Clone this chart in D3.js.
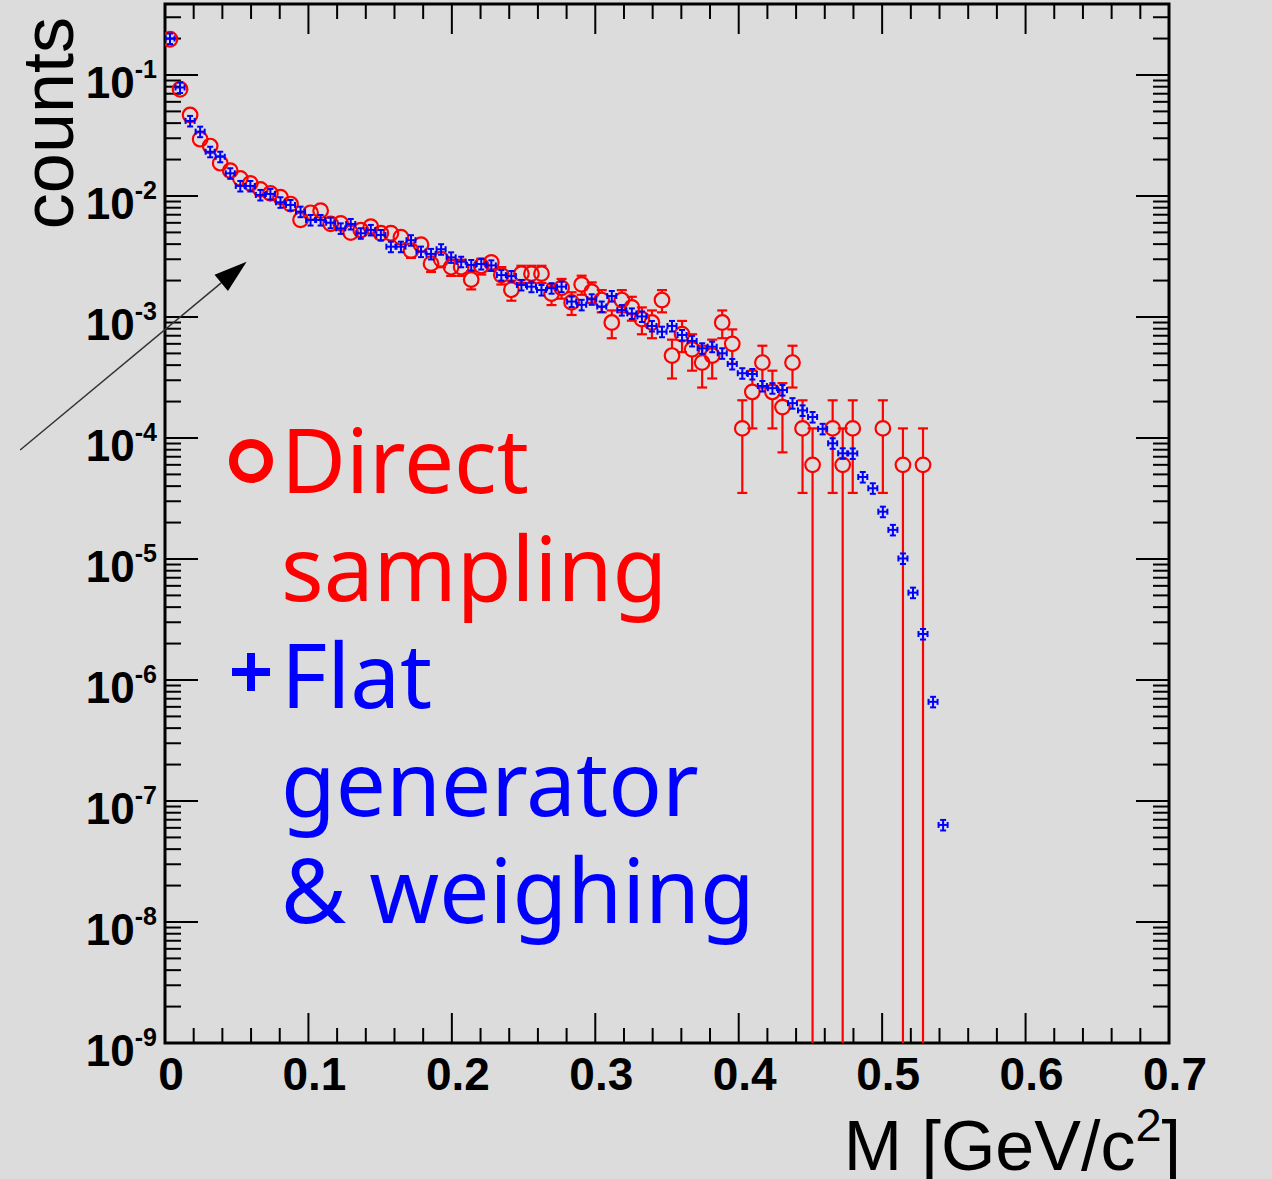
<!DOCTYPE html>
<html>
<head>
<meta charset="utf-8">
<script src="https://cdn.jsdelivr.net/npm/d3@7"></script>
<style>
  html, body { margin: 0; padding: 0; background: #dcdcdc; }
  svg { display: block; }
</style>
</head>
<body>
<svg id="chart" width="1272" height="1179"></svg>
<script>
// histogram binning
const BIN_WIDTH = 0.007
// weight of one entry of the direct-sampling histogram
const RED_WEIGHT = 6e-5
const BLUE_REL_ERR = 0.1

// entries per bin, direct sampling (bin i centred at (i + 0.5) * BIN_WIDTH)
const redEntries = [
  3290, 1270, 778, 491, 431, 311, 270, 233, 212, 189,
  175, 163, 143, 106, 121, 126, 98, 99, 83, 87,
  93, 82, 82, 76, 59, 66, 46, 50, 43, 43,
  34, 44, 47, 37, 28, 38, 38, 38, 26, 29,
  22, 31, 27, 23, 15, 23, 20, 16, 15, 23,
  8, 12, 9, 7, 8, 15, 10, 2, 4, 7,
  4, 3, 7, 2, 1, 0, 2, 1, 2, 0,
  0, 2, 0, 1, 0, 1
]

// flat generator & weighing, counts per bin
const blueValues = [
  0.200, 0.0788, 0.0417, 0.0340, 0.0232, 0.0211, 0.0154, 0.0121, 0.0121, 0.0102,
  0.0104, 0.00887, 0.00843, 0.00742, 0.00633, 0.00633, 0.00601, 0.00540, 0.00587, 0.00492,
  0.00524, 0.00476, 0.00381, 0.00381, 0.00431, 0.00347, 0.00332, 0.00363, 0.00311, 0.00286,
  0.00269, 0.00274, 0.00267, 0.00222, 0.00218, 0.00184, 0.00178, 0.00167, 0.00173, 0.00178,
  0.00134, 0.00126, 0.00140, 0.00122, 0.00149, 0.00114, 0.00107, 0.00101, 0.000843, 0.000756,
  0.000843, 0.000710, 0.000634, 0.000551, 0.000568, 0.000501, 0.000409, 0.000343, 0.000338, 0.000269,
  0.000258, 0.000249, 0.000194, 0.000169, 0.000149, 0.000119, 9.04e-5, 7.47e-5, 7.45e-5, 4.76e-5,
  3.84e-5, 2.46e-5, 1.74e-5, 1.01e-5, 5.27e-6, 2.40e-6, 6.6e-7, 6.34e-8
]

const xLabels = ['0', '0.1', '0.2', '0.3', '0.4', '0.5', '0.6', '0.7']
const yDecades = [-9, -8, -7, -6, -5, -4, -3, -2, -1]
const legendRed = ['Direct', 'sampling']
const legendBlue = ['Flat', 'generator', '& weighing']
// arrow in user coordinates
const arrowData = { x1: -0.101, y1: 7.96e-5, x2: 0.0569, y2: 2.86e-3 }

const X_MIN = 0, X_MAX = 0.7
const Y_MIN = 1e-9, Y_MAX = 0.386
const frame = { left: 165, right: 1169, top: 4, bottom: 1043 }
const RED = '#ff0000', BLUE = '#0000ff'

const x = d3.scaleLinear().domain([X_MIN, X_MAX]).range([frame.left, frame.right])
const y = d3.scaleLog().domain([Y_MIN, Y_MAX]).range([frame.bottom, frame.top])

const svg = d3.select('#chart')
svg.append('rect').attr('width', 1272).attr('height', 1179).attr('fill', '#dcdcdc')

svg.append('clipPath').attr('id', 'frameClip')
  .append('rect')
  .attr('x', frame.left).attr('y', frame.top)
  .attr('width', frame.right - frame.left).attr('height', frame.bottom - frame.top)

// ---- ticks ----
const ticks = svg.append('g').attr('stroke', '#000').attr('stroke-width', 2)
const xTickVals = d3.range(0, 36).map(i => ({ v: i * 0.02, major: i % 5 === 0 }))
xTickVals.forEach(t => {
  const len = t.major ? 30 : 15
  const px = x(t.v)
  ticks.append('line').attr('x1', px).attr('x2', px).attr('y1', frame.bottom).attr('y2', frame.bottom - len)
  ticks.append('line').attr('x1', px).attr('x2', px).attr('y1', frame.top).attr('y2', frame.top + len)
})
const yTickVals = []
yDecades.forEach(k => {
  yTickVals.push({ v: Math.pow(10, k), major: true })
  for (let m = 2; m <= 9; m++) yTickVals.push({ v: m * Math.pow(10, k), major: false })
})
yTickVals.filter(t => t.v <= Y_MAX).forEach(t => {
  const len = t.major ? 33 : 16
  const py = y(t.v)
  ticks.append('line').attr('x1', frame.left).attr('x2', frame.left + len).attr('y1', py).attr('y2', py)
  ticks.append('line').attr('x1', frame.right).attr('x2', frame.right - len).attr('y1', py).attr('y2', py)
})

// ---- frame ----
svg.append('rect')
  .attr('x', frame.left).attr('y', frame.top)
  .attr('width', frame.right - frame.left).attr('height', frame.bottom - frame.top)
  .attr('fill', 'none').attr('stroke', '#000').attr('stroke-width', 3)

// ---- tick labels ----
svg.append('g').selectAll('text')
  .data(xLabels)
  .join('text')
  .attr('x', d => x(+d) + 6)
  .attr('y', 1090)
  .attr('text-anchor', 'middle')
  .attr('font-family', 'Liberation Sans, Arial, sans-serif')
  .attr('font-weight', 'bold')
  .attr('font-size', 46)
  .text(d => d)

const yLab = svg.append('g').selectAll('text')
  .data(yDecades)
  .join('text')
  .attr('x', 157)
  .attr('y', d => y(Math.pow(10, d)) + 23)
  .attr('text-anchor', 'end')
  .attr('font-family', 'Liberation Sans, Arial, sans-serif')
  .attr('font-weight', 'bold')
  .attr('font-size', 44)
yLab.append('tspan').text('10')
yLab.append('tspan').attr('dy', -20).attr('font-size', 25).text(d => String(d))

// ---- axis titles ----
svg.append('text')
  .attr('transform', 'translate(73,17) rotate(-90)')
  .attr('text-anchor', 'end')
  .attr('font-family', 'Liberation Sans, Arial, sans-serif')
  .attr('font-size', 72)
  .text('counts')

const xTitle = svg.append('text')
  .attr('x', 1181).attr('y', 1170)
  .attr('text-anchor', 'end')
  .attr('font-family', 'Liberation Sans, Arial, sans-serif')
  .attr('font-size', 70)
xTitle.append('tspan').text('M [GeV/c')
xTitle.append('tspan').attr('dy', -29).attr('font-size', 47).text('2')
xTitle.append('tspan').attr('dy', 29).text(']')

// ---- data ----
const plot = svg.append('g').attr('clip-path', 'url(#frameClip)')
const binCenter = i => (i + 0.5) * BIN_WIDTH

const redData = redEntries
  .map((n, i) => ({ i, n, v: n * RED_WEIGHT, e: Math.sqrt(n) * RED_WEIGHT }))
  .filter(d => d.n > 0)

const R = 7.3, CAP = 5
const redG = plot.append('g').attr('stroke', RED).attr('stroke-width', 2.2).attr('fill', 'none')
redData.forEach(d => {
  const cx = x(binCenter(d.i)), cy = y(d.v)
  const yTop = y(d.v + d.e)
  const lowOk = d.v - d.e > 0
  const yBot = lowOk ? y(d.v - d.e) : frame.bottom + 20
  if (yTop < cy - R) {
    redG.append('line').attr('x1', cx).attr('x2', cx).attr('y1', yTop).attr('y2', cy - R)
    redG.append('line').attr('x1', cx - CAP).attr('x2', cx + CAP).attr('y1', yTop).attr('y2', yTop)
  }
  if (yBot > cy + R) {
    redG.append('line').attr('x1', cx).attr('x2', cx).attr('y1', cy + R).attr('y2', yBot)
    if (lowOk) redG.append('line').attr('x1', cx - CAP).attr('x2', cx + CAP).attr('y1', yBot).attr('y2', yBot)
  }
  redG.append('circle').attr('cx', cx).attr('cy', cy).attr('r', R)
})

const blueG = plot.append('g').attr('stroke', BLUE).attr('stroke-width', 2).attr('fill', 'none')
blueValues.forEach((v, i) => {
  const cx = x(binCenter(i)), cy = y(v)
  const x0 = x(i * BIN_WIDTH) + 0.5, x1 = x((i + 1) * BIN_WIDTH) - 0.5
  const yTop = y(v * (1 + BLUE_REL_ERR)), yBot = y(v * (1 - BLUE_REL_ERR))
  const c = 3
  blueG.append('line').attr('x1', cx).attr('x2', cx).attr('y1', yTop).attr('y2', yBot)
  blueG.append('line').attr('x1', cx - c).attr('x2', cx + c).attr('y1', yTop).attr('y2', yTop)
  blueG.append('line').attr('x1', cx - c).attr('x2', cx + c).attr('y1', yBot).attr('y2', yBot)
  blueG.append('line').attr('x1', x0).attr('x2', x1).attr('y1', cy).attr('y2', cy)
  blueG.append('line').attr('x1', x0).attr('x2', x0).attr('y1', cy - c).attr('y2', cy + c)
  blueG.append('line').attr('x1', x1).attr('x2', x1).attr('y1', cy - c).attr('y2', cy + c)
})

// ---- arrow ----
const ax1 = x(arrowData.x1), ay1 = y(arrowData.y1)
const ax2 = x(arrowData.x2), ay2 = y(arrowData.y2)
const ang = Math.atan2(ay2 - ay1, ax2 - ax1)
const headLen = 33, headHalf = 10.5
const bx = ax2 - headLen * Math.cos(ang), by = ay2 - headLen * Math.sin(ang)
svg.append('line')
  .attr('x1', ax1).attr('y1', ay1).attr('x2', bx).attr('y2', by)
  .attr('stroke', '#333').attr('stroke-width', 1.5)
svg.append('polygon')
  .attr('points', [
    [ax2, ay2],
    [bx + headHalf * Math.sin(ang), by - headHalf * Math.cos(ang)],
    [bx - headHalf * Math.sin(ang), by + headHalf * Math.cos(ang)]
  ].map(p => p.join(',')).join(' '))
  .attr('fill', '#000')

// ---- legend ----
const legend = svg.append('g')
  .attr('font-family', 'Noto Sans, Open Sans, sans-serif')
  .attr('font-size', 89)
legend.append('circle').attr('cx', 251).attr('cy', 461).attr('r', 17.5)
  .attr('fill', 'none').attr('stroke', RED).attr('stroke-width', 9)
legend.append('path').attr('d', 'M232,672H270M251,653V691')
  .attr('stroke', BLUE).attr('stroke-width', 8)
legend.selectAll('text.red')
  .data(legendRed)
  .join('text')
  .attr('class', 'red')
  .attr('x', 281)
  .attr('y', (d, i) => 493 + i * 108)
  .attr('fill', RED)
  .text(d => d)
legend.selectAll('text.blue')
  .data(legendBlue)
  .join('text')
  .attr('class', 'blue')
  .attr('x', 281)
  .attr('y', (d, i) => 708 + i * 107.5)
  .attr('fill', BLUE)
  .text(d => d)
</script>
</body>
</html>
